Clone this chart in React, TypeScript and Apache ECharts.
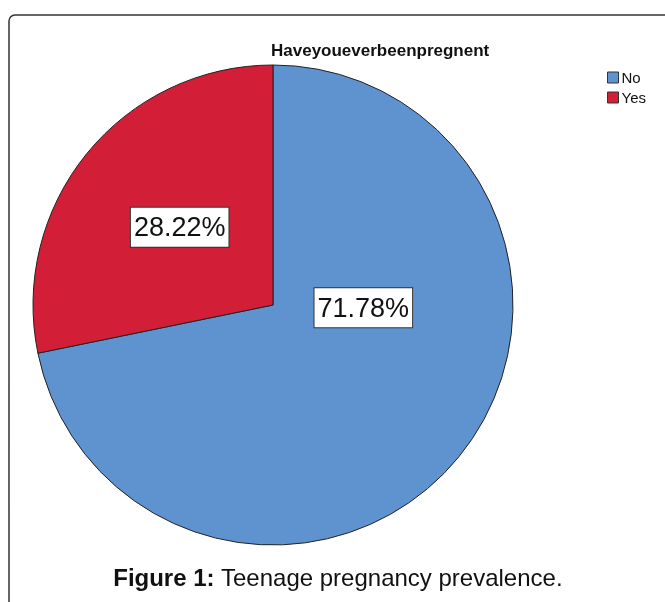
import React, { useEffect, useRef } from "react";
import * as echarts from "echarts";

const categories = ["No", "Yes"];
const percentages = [71.78, 28.22];
const sliceColors = ["#5F93CF", "#D21E36"];
const chartTitle = "Haveyoueverbeenpregnent";
const captionBold = "Figure 1:";
const captionText = " Teenage pregnancy prevalence.";

const FONT = "'Liberation Sans', Arial, sans-serif";

export default function App() {
  const ref = useRef<HTMLDivElement>(null);
  useEffect(() => {
    if (!ref.current) return;
    const chart = echarts.init(ref.current, null, { renderer: "svg" });
    const data = categories.map((name, i) => ({
      name,
      value: percentages[i],
      itemStyle: { color: sliceColors[i] },
    }));
    chart.setOption({
      animation: false,
      title: {
        text: chartTitle,
        left: 271,
        top: 42,
        padding: 0,
        textStyle: { fontFamily: FONT, fontSize: 17, fontWeight: "bold", color: "#111" },
      },
      legend: {
        orient: "vertical",
        left: 607,
        top: 70,
        padding: 0,
        itemWidth: 11,
        itemHeight: 11,
        itemGap: 5,
        icon: "rect",
        data: categories,
        selectedMode: false,
        itemStyle: { borderColor: "#333", borderWidth: 1 },
        textStyle: { fontFamily: FONT, fontSize: 15, color: "#111", padding: [0, 0, 0, -2] },
      },
      graphic: [
        {
          type: "rect",
          shape: { x: 9, y: 15, width: 720, height: 700, r: 6 },
          style: { fill: "none", stroke: "#333", lineWidth: 1.5 },
          silent: true,
        },
        {
          type: "text",
          x: 338,
          y: 577,
          style: {
            text: "{b|" + captionBold + "}" + captionText,
            rich: { b: { fontWeight: "bold", fontSize: 24, fontFamily: FONT, fill: "#111" } },
            fontSize: 24,
            fontFamily: FONT,
            fill: "#111",
            align: "center",
            verticalAlign: "middle",
          },
          silent: true,
        },
      ],
      series: [
        {
          type: "pie",
          center: [273, 305],
          radius: 240,
          startAngle: 90,
          clockwise: true,
          silent: true,
          data,
          itemStyle: { borderColor: "#222", borderWidth: 1 },
          emphasis: { disabled: true },
          label: {
            show: true,
            position: "inside",
            formatter: (p: any) => p.value.toFixed(2) + "%",
            fontFamily: FONT,
            fontSize: 27,
            color: "#111",
            backgroundColor: "#fff",
            borderColor: "#333",
            borderWidth: 1,
            padding: [7, 3, 5, 3],
          },
          labelLayout: (p: any) =>
            p.dataIndex === 0 ? { dx: -5, dy: -75 } : { dx: 2, dy: 0 },
          labelLine: { show: false },
        },
      ],
    });
    return () => chart.dispose();
  }, []);
  return (
    <div
      ref={ref}
      style={{ position: "fixed", left: 0, top: 0, width: 665, height: 602 }}
    />
  );
}
